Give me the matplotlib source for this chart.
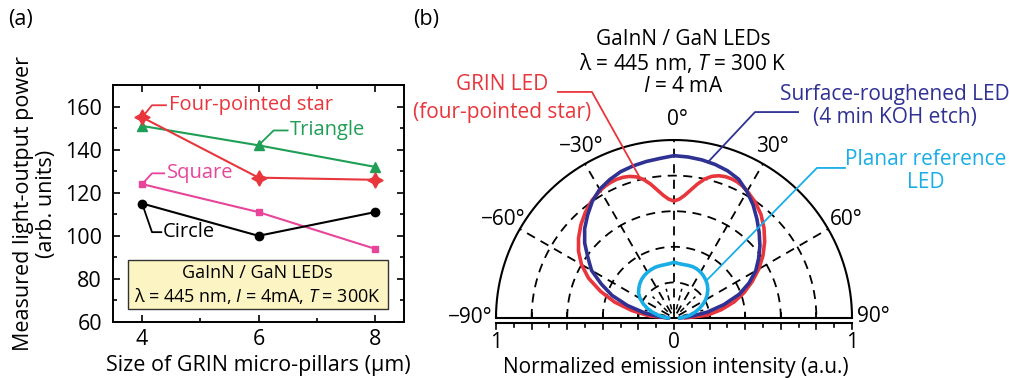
import numpy as np
import matplotlib
matplotlib.use("Agg")
import matplotlib.pyplot as plt

plt.rcParams['font.family'] = ['Open Sans', 'DejaVu Sans']
plt.rcParams['mathtext.fontset'] = 'custom'
plt.rcParams['mathtext.rm'] = 'Open Sans'
plt.rcParams['mathtext.it'] = 'Open Sans:italic'

# ---------------- Panel (a) data ----------------
pillar_size = [4, 6, 8]
star_vals = [155, 127, 126]
triangle_vals = [151, 142, 132]
square_vals = [124, 111, 94]
circle_vals = [115, 100, 111]

# ---------------- Panel (b) data ----------------
grin_angles = [-90, -85, -80, -75, -70, -65, -60, -55, -50, -45, -40, -35, -30, -27.5, -25, -22.5, -20, -17.5,
               -15, -12.5, -10, -7.5, -5, -2.5, 0, 2.5, 5, 7.5, 10, 12.5, 15, 17.5, 20, 22.5, 25, 27.5, 30,
               35, 40, 45, 50, 55, 60, 65, 70, 75, 80, 85, 90]
grin_r = [0.03, 0.14, 0.24, 0.345, 0.44, 0.53, 0.60, 0.655, 0.70, 0.74, 0.775, 0.805, 0.828, 0.836, 0.841, 0.843, 0.841, 0.834,
          0.821, 0.798, 0.765, 0.726, 0.692, 0.668, 0.657, 0.668, 0.692, 0.726, 0.765, 0.80, 0.824, 0.838, 0.845, 0.846, 0.843, 0.835, 0.823,
          0.795, 0.76, 0.715, 0.665, 0.61, 0.55, 0.485, 0.42, 0.35, 0.27, 0.19, 0.06]
angles_deg = [-90, -85, -80, -75, -70, -65, -60, -55, -50, -45, -40, -35, -30, -25, -20, -15, -10, -5,
              0, 5, 10, 15, 20, 25, 30, 35, 40, 45, 50, 55, 60, 65, 70, 75, 80, 85, 90]
rough_r = [0.03, 0.08, 0.17, 0.27, 0.37, 0.45, 0.535, 0.59, 0.655, 0.71, 0.755, 0.80, 0.835, 0.857, 0.875, 0.885, 0.893, 0.90,
           0.912, 0.908, 0.902, 0.893, 0.88, 0.86, 0.82, 0.775, 0.725, 0.677, 0.63, 0.58, 0.53, 0.465, 0.39, 0.29, 0.19, 0.09, 0.03]
planar_r = [0.03, 0.055, 0.09, 0.125, 0.16, 0.192, 0.22, 0.243, 0.258, 0.272, 0.283, 0.291, 0.297, 0.301, 0.304, 0.304, 0.304, 0.306,
            0.313, 0.307, 0.305, 0.306, 0.307, 0.304, 0.298, 0.289, 0.278, 0.265, 0.248, 0.228, 0.205, 0.178, 0.15, 0.12, 0.09, 0.055, 0.03]
grid_radii = [0.2, 0.4, 0.6, 0.8]
grid_angles = [-60, -30, 0, 30, 60]
inner_angles = [-75, -45, -15, 15, 45, 75]
angle_labels = ['−90°', '−60°', '−30°', '0°', '30°', '60°', '90°']

RED = '#e8363c'
GREEN = '#1f9e55'
MAGENTA = '#e8449a'
NAVY = '#2f3193'
CYAN = '#19aee6'

W, H = 1009, 378
fig = plt.figure(figsize=(W / 100, H / 100), dpi=100)

FSA = 15.5   # axis text panel a
FSL = 14.5   # in-plot labels panel a
FSB = 15.0   # panel b

# ================= Panel (a) =================
ax = fig.add_axes([113 / W, 1 - 322 / H, 291 / W, 237 / H])
ax.plot(pillar_size, star_vals, color=RED, lw=1.5, marker=(4, 1, 0), ms=11, zorder=5)
ax.plot(pillar_size, triangle_vals, color=GREEN, lw=1.5, marker='^', ms=6.5, zorder=4)
ax.plot(pillar_size, square_vals, color=MAGENTA, lw=1.5, marker='s', ms=5, zorder=4)
ax.plot(pillar_size, circle_vals, color='black', lw=1.5, marker='o', ms=6, zorder=4)
ax.set_xlim(3.5, 8.5)
ax.set_ylim(60, 170)
ax.set_xticks([4, 6, 8])
ax.set_xticks([5, 7], minor=True)
ax.set_yticks(range(60, 161, 20))
ax.set_yticks(range(70, 171, 20), minor=True)
ax.tick_params(which='both', direction='in', top=True, right=True, width=1.2, labelsize=FSA)
ax.tick_params(which='major', length=5)
ax.tick_params(which='minor', length=3)
ax.tick_params(axis='y', pad=8)
ax.tick_params(axis='x', pad=5)
for s in ax.spines.values():
    s.set_linewidth(1.4)
ax.set_xlabel('Size of GRIN micro-pillars (µm)', fontsize=FSA, labelpad=4)
ax.set_ylabel('Measured light-output power\n(arb. units)', fontsize=FSA, labelpad=6, linespacing=1.12)

# labels with leaders
ax.plot([4, 4.17, 4.41], [155, 160.6, 160.6], color=RED, lw=1.3)
ax.text(4.46, 160.6, 'Four-pointed star', color=RED, fontsize=FSL, va='center', ha='left')
ax.plot([6, 6.26, 6.5], [142, 148.9, 148.9], color=GREEN, lw=1.3)
ax.text(6.54, 148.9, 'Triangle', color=GREEN, fontsize=FSL, va='center', ha='left')
ax.plot([4, 4.17, 4.38], [124, 129, 129], color=MAGENTA, lw=1.3)
ax.text(4.42, 129, 'Square', color=MAGENTA, fontsize=FSL, va='center', ha='left')
ax.plot([4, 4.17, 4.33], [115, 101.7, 101.7], color='black', lw=1.3)
ax.text(4.35, 101.7, 'Circle', color='black', fontsize=FSL, va='center', ha='left')

box = plt.Rectangle((3.76, 66), 8.22 - 3.76, 88.7 - 66, facecolor='#fcf4c2', edgecolor='#333333', lw=1.0, zorder=3)
ax.add_patch(box)
ax.text(5.98, 82.6, 'GaInN / GaN LEDs', fontsize=13, ha='center', va='center', zorder=6)
ax.text(5.98, 71.9, r'λ = 445 nm, $\mathit{I}$ = 4mA, $\mathit{T}$ = 300K', fontsize=13, ha='center', va='center', zorder=6)

fig.text(8 / W, 1 - 20 / H, '(a)', fontsize=FSA, ha='left', va='center')
fig.text(413 / W, 1 - 20 / H, '(b)', fontsize=FSA, ha='left', va='center')

# ================= Panel (b) =================
CX, CY, R = 674.0, 318.0, 178.0
x0, x1 = 410.0, 1009.0
bx = fig.add_axes([x0 / W, 0, (x1 - x0) / W, 1])
bx.set_xlim((x0 - CX) / R, (x1 - CX) / R)
bx.set_ylim((CY - H) / R, CY / R)
bx.axis('off')

def pol(theta_deg, r):
    t = np.deg2rad(np.asarray(theta_deg, dtype=float))
    r = np.asarray(r, dtype=float)
    return r * np.sin(t), r * np.cos(t)

arc_t = np.linspace(-90, 90, 361)
dash = (0, (5, 3.6))
for rr in grid_radii:
    gx, gy = pol(arc_t, np.full_like(arc_t, rr))
    bx.plot(gx, gy, color='black', lw=1.3, ls=dash, zorder=1)
for a in grid_angles:
    gx, gy = pol([a, a], [0.03, 1])
    bx.plot(gx, gy, color='black', lw=1.3, ls=dash, zorder=1)
for a in inner_angles:
    gx, gy = pol([a, a], [0.05, 0.17])
    bx.plot(gx, gy, color='black', lw=1.1, ls=(0, (3.5, 2.5)), zorder=1)

ox, oy = pol(arc_t, np.ones_like(arc_t))
bx.plot(ox, oy, color='black', lw=1.5, zorder=2)
bx.plot([-1, 1], [0, 0], color='black', lw=1.5, zorder=2)
yl = -5.0 / R
bx.plot([-1, 1], [yl, yl], color='black', lw=1.5, zorder=2)
for v in np.arange(-1.0, 1.01, 0.2):
    bx.plot([v, v], [0, 5.5 / R], color='black', lw=1.3, zorder=2)
for k in range(-10, 11):
    v = k / 10
    ln = 6.0 if k % 2 == 0 else 3.5
    bx.plot([v, v], [yl, yl - ln / R], color='black', lw=1.2, zorder=2)

# curves
gx, gy = pol(grin_angles, grin_r)
bx.plot(gx, gy, color=RED, lw=2.6, zorder=3, solid_joinstyle='round', solid_capstyle='round')
gx, gy = pol(angles_deg, rough_r)
bx.plot(gx, gy, color=NAVY, lw=2.6, zorder=4, solid_joinstyle='round', solid_capstyle='round')
gx, gy = pol(angles_deg, planar_r)
bx.plot(gx, gy, color=CYAN, lw=2.6, zorder=5, solid_joinstyle='round', solid_capstyle='round')

# angle labels
bx.text(-1.02, 0.005, angle_labels[0], fontsize=FSB, ha='right', va='center')
bx.text(1.03, 0.01, angle_labels[6], fontsize=FSB, ha='left', va='center')
bx.text(-0.96, 0.553, angle_labels[1], fontsize=FSB, ha='center', va='center')
bx.text(0.97, 0.553, angle_labels[5], fontsize=FSB, ha='center', va='center')
bx.text(-0.52, 0.966, angle_labels[2], fontsize=FSB, ha='center', va='center')
bx.text(0.555, 0.966, angle_labels[4], fontsize=FSB, ha='center', va='center')
bx.text(0.02, 1.115, angle_labels[3], fontsize=FSB, ha='center', va='center')

# bottom scale
bx.text(-1, -24 / R, '1', fontsize=FSB, ha='center', va='center')
bx.text(0, -24 / R, '0', fontsize=FSB, ha='center', va='center')
bx.text(1, -24 / R, '1', fontsize=FSB, ha='center', va='center')
bx.text(0.01, -50 / R, 'Normalized emission intensity (a.u.)', fontsize=FSB, ha='center', va='center')

# title
bx.text(0.05, 1.562, 'GaInN / GaN LEDs', fontsize=FSB, ha='center', va='center')
bx.text(0.05, 1.433, r'λ = 445 nm, $\mathit{T}$ = 300 K', fontsize=FSB, ha='center', va='center')
bx.text(0.05, 1.298, r'$\mathit{I}$ = 4 mA', fontsize=FSB, ha='center', va='center')

# annotations
bx.plot([-0.652, -0.461, -0.191], [1.27, 1.27, 0.787], color=RED, lw=1.3, zorder=6)
bx.text(-0.966, 1.31, 'GRIN LED', color=RED, fontsize=FSB, ha='center', va='center')
bx.text(-0.966, 1.152, '(four-pointed star)', color=RED, fontsize=FSB, ha='center', va='center')

bx.plot([0.697, 0.455, 0.191], [1.157, 1.157, 0.876], color=NAVY, lw=1.3, zorder=6)
bx.text(1.242, 1.253, 'Surface-roughened LED', color=NAVY, fontsize=FSB, ha='center', va='center')
bx.text(1.242, 1.124, '(4 min KOH etch)', color=NAVY, fontsize=FSB, ha='center', va='center')

bx.plot([0.961, 0.803, 0.185], [0.843, 0.843, 0.213], color=CYAN, lw=1.3, zorder=6)
bx.text(1.416, 0.888, 'Planar reference', color=CYAN, fontsize=FSB, ha='center', va='center')
bx.text(1.416, 0.764, 'LED', color=CYAN, fontsize=FSB, ha='center', va='center')

fig.savefig('out.png', dpi=100)
